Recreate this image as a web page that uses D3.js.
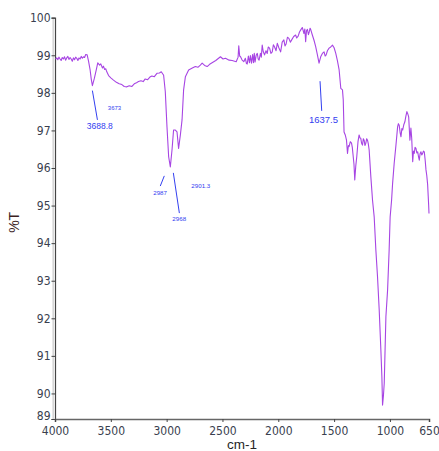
<!DOCTYPE html>
<html>
<head>
<meta charset="utf-8">
<script src="https://cdn.jsdelivr.net/npm/d3@7"></script>
<style>
  html, body { margin: 0; padding: 0; background: #fff; }
  svg { display: block; }
</style>
</head>
<body>
<svg id="chart" width="439" height="451"></svg>
<script>
// FTIR spectrum: wavenumber (cm-1) vs. transmittance (%T)
const wavenumber = [
  3995, 3985, 3975, 3965, 3955, 3945, 3935, 3925, 3915, 3905, 3895, 3885, 3875, 3865,
  3855, 3845, 3835, 3825, 3815, 3805, 3795, 3785, 3775, 3765, 3755, 3745, 3735, 3725, 3712,
  3700, 3686, 3675, 3665, 3647, 3630, 3617, 3600, 3590, 3575, 3566, 3555, 3545, 3536,
  3520, 3500, 3476, 3450, 3425, 3401, 3380, 3356, 3335, 3311, 3290, 3270, 3252, 3230,
  3210, 3192, 3170, 3150, 3132, 3110, 3087, 3065, 3048, 3027, 3012, 2997, 2982, 2967,
  2952, 2938, 2922, 2907, 2893, 2877, 2862, 2848, 2832, 2803, 2770, 2743, 2720, 2698,
  2682, 2660, 2637, 2615, 2593, 2560, 2518, 2495, 2473, 2440, 2413, 2377, 2360, 2354,
  2346, 2338, 2325, 2309, 2295, 2285, 2278, 2268, 2258, 2250, 2240, 2230, 2222, 2215,
  2208, 2198, 2188, 2180, 2172, 2160, 2152, 2144, 2135, 2123, 2110, 2099, 2090, 2078,
  2066, 2054, 2044, 2033, 2020, 2009, 1995, 1979, 1965, 1950, 1940, 1930, 1918, 1905,
  1892, 1880, 1862, 1845, 1835, 1822, 1810, 1800, 1785, 1770, 1762, 1755, 1747, 1739,
  1730, 1723, 1715, 1710, 1695, 1680, 1665, 1650, 1635, 1620, 1605, 1590, 1580, 1571,
  1560, 1545, 1530, 1515, 1500, 1485, 1470, 1455, 1440, 1425, 1418, 1411,
  1400, 1389, 1380, 1372, 1366, 1355, 1344, 1337, 1330, 1322, 1315, 1306, 1297, 1286, 1276,
  1268, 1261, 1254, 1246, 1238, 1231, 1224, 1216, 1208, 1201, 1194, 1186,
  1171, 1156, 1141, 1126, 1111, 1096, 1081, 1072, 1066, 1058, 1051, 1036, 1021, 1007, 998,
  985, 976, 962, 946, 931, 924, 917, 909, 901, 893, 886, 876, 866, 857, 848, 840, 832, 821,
  812, 805, 796, 789, 782, 775, 767, 759, 751, 744, 737, 730, 722, 715, 707, 700, 692, 684,
  677, 670, 662, 657, 653, 650
];
const transmittance = [
  98.90, 98.93, 98.88, 98.95, 98.90, 98.86, 98.94, 98.90, 98.96, 98.87, 98.93, 98.97, 98.89, 98.94,
  98.90, 98.84, 98.93, 98.88, 98.95, 98.92, 98.86, 98.93, 98.90, 98.97, 98.92, 98.96, 98.94, 99.02, 99.01,
  98.85, 98.62, 98.36, 98.19, 98.39, 98.62, 98.80, 98.74, 98.77, 98.66, 98.71, 98.62, 98.64, 98.56,
  98.46, 98.40, 98.34, 98.28, 98.24, 98.22, 98.17, 98.16, 98.19, 98.17, 98.24, 98.27, 98.30, 98.32,
  98.30, 98.37, 98.35, 98.42, 98.45, 98.43, 98.52, 98.53, 98.56, 98.47, 98.03, 97.10, 96.30, 96.03,
  96.48, 97.01, 97.01, 96.96, 96.52, 96.88, 97.28, 98.08, 98.43, 98.61, 98.66, 98.70, 98.68, 98.74,
  98.79, 98.73, 98.70, 98.76, 98.80, 98.86, 98.96, 98.90, 98.92, 98.87, 98.86, 98.83, 98.95, 99.25,
  98.98, 98.96, 98.88, 98.83, 98.92, 98.78, 98.77, 98.98, 98.80, 98.99, 98.79, 99.02, 98.80, 99.05,
  98.82, 99.00, 99.05, 98.90, 98.87, 99.05, 98.95, 99.27, 99.10, 99.01, 99.12, 99.05, 99.22, 99.19,
  99.05, 99.09, 99.28, 99.22, 99.12, 99.32, 99.20, 99.09, 99.35, 99.41, 99.25, 99.30, 99.48, 99.45,
  99.35, 99.41, 99.50, 99.54, 99.46, 99.51, 99.62, 99.67, 99.74, 99.58, 99.70, 99.36, 99.66, 99.69,
  99.55, 99.62, 99.72, 99.69, 99.54, 99.40, 99.23, 99.02, 98.79, 98.96, 99.05, 99.09, 98.98, 99.01,
  99.12, 99.19, 99.22, 99.27, 99.20, 99.05, 98.85, 98.61, 98.12, 98.08, 97.81, 96.96,
  96.88, 96.74, 96.39, 96.60, 96.57, 96.70, 96.66, 96.55, 96.34, 96.10, 95.68, 96.05, 96.30, 96.70, 96.88,
  96.80, 96.79, 96.66, 96.61, 96.78, 96.74, 96.60, 96.66, 96.78, 96.74, 96.65, 96.48,
  95.77, 95.15, 94.70, 93.82, 93.10, 92.22, 91.15, 90.44, 89.69, 89.95, 90.27, 92.04, 92.75, 93.82, 94.70,
  95.15, 95.59, 96.12, 96.61, 97.10, 97.18, 97.14, 96.95, 96.83, 97.05, 97.01, 97.15, 97.23, 97.38, 97.50, 97.44, 97.36, 96.74,
  97.06, 96.80, 96.17, 96.45, 96.39, 96.55, 96.52, 96.40, 96.43, 96.30, 96.21, 96.38, 96.43, 96.35, 96.39, 96.45, 96.43, 96.20,
  95.95, 95.80, 95.55, 95.25, 95.01, 94.79
];

// axis ticks
const xTicks = [4000, 3500, 3000, 2500, 2000, 1500, 1000, 650];
const yTicks = [100, 99, 98, 97, 96, 95, 94, 93, 92, 91, 90];
const yBottom = 89.32;     // lower end of the %T axis, labelled "89"
const yBottomLabel = "89";

// peak annotations
const annLabels = ["3688.8", "3673", "2987", "2968", "2901.3", "1637.5"];
const annTextAt = [[3715, 97.04], [3527, 97.54], [3120, 95.29], [2949, 94.60], [2779, 95.48], [1725, 97.21]];
const annFontSize = [8.5, 6, 6.2, 6.2, 6.2, 9.5];
const annLeaders = [
  [[3665, 98.06], [3620, 97.28]],
  null,
  [[3021, 95.79], [3057, 95.52]],
  [[2940, 95.87], [2886, 94.80]],
  null,
  [[1626, 98.31], [1611, 97.52]]
];

const svg = d3.select("#chart");
const plotLeft = 55, plotRight = 429, plotTop = 17.7, plotBottom = 419;

const x = d3.scaleLinear().domain([4000, 650]).range([plotLeft, plotRight]);
const y = d3.scaleLinear().domain([yBottom, 100]).range([plotBottom, plotTop]);

const tickFont = "'Liberation Sans Narrow', 'Arial Narrow', 'DejaVu Sans Condensed', sans-serif";
const tickColor = "#3a3f4f";

// soft grey edge along the %T axis
svg.append("line")
  .attr("x1", plotLeft - 1.8).attr("x2", plotLeft - 1.8)
  .attr("y1", plotTop).attr("y2", plotBottom)
  .attr("stroke", "#d6d6d6").attr("stroke-width", 1.6);

// y axis
const yAxis = svg.append("g")
  .attr("transform", `translate(${plotLeft},0)`)
  .call(d3.axisLeft(y)
    .tickValues([yBottom, ...yTicks])
    .tickSize(3.5)
    .tickPadding(1)
    .tickFormat(d => d === yBottom ? yBottomLabel : d3.format("d")(d)));

// x axis
const xAxis = svg.append("g")
  .attr("transform", `translate(0,${plotBottom})`)
  .call(d3.axisBottom(x)
    .tickValues(xTicks)
    .tickSize(3)
    .tickPadding(4)
    .tickFormat(d3.format("d")));

[yAxis, xAxis].forEach(g => {
  g.select(".domain").attr("stroke", "#444").attr("stroke-width", 1.2);
  g.selectAll(".tick line").attr("stroke", "#444");
  g.selectAll(".tick text")
    .attr("fill", tickColor)
    .style("font-family", tickFont)
    .style("font-size", "12px");
});
xAxis.select(".domain").attr("stroke", "#666").attr("stroke-width", 1.6);
// lift the bottom "89" label clear of the wavenumber labels
yAxis.selectAll(".tick text").filter(d => d === yBottom).attr("dy", "0.05em");

// axis titles
svg.append("text")
  .attr("transform", `translate(19,${(plotTop + plotBottom) / 2 + 4}) rotate(-90)`)
  .attr("text-anchor", "middle")
  .attr("fill", "#3d1f1f")
  .style("font-family", "'Liberation Sans', Arial, sans-serif")
  .style("font-size", "14px")
  .text("%T");

svg.append("text")
  .attr("x", (plotLeft + plotRight) / 2).attr("y", 449)
  .attr("text-anchor", "middle")
  .attr("fill", "#262626")
  .style("font-family", "'Liberation Sans', Arial, sans-serif")
  .style("font-size", "13.5px")
  .text("cm-1");

// spectrum trace
const points = wavenumber.map((w, i) => [w, transmittance[i]]);
const line = d3.line().x(d => x(d[0])).y(d => y(d[1]));

svg.append("path")
  .datum(points)
  .attr("fill", "none")
  .attr("stroke", "#a745e3")
  .attr("stroke-width", 1.1)
  .attr("stroke-linejoin", "round")
  .attr("d", line);

// peak labels and leader lines
const annColor = "#3340f0";
annLabels.forEach((label, i) => {
  const lead = annLeaders[i];
  if (lead) {
    svg.append("line")
      .attr("x1", x(lead[0][0])).attr("y1", y(lead[0][1]))
      .attr("x2", x(lead[1][0])).attr("y2", y(lead[1][1]))
      .attr("stroke", annColor).attr("stroke-width", 1);
  }
  svg.append("text")
    .attr("x", x(annTextAt[i][0])).attr("y", y(annTextAt[i][1]))
    .attr("fill", annColor)
    .style("font-family", "'Liberation Sans', Arial, sans-serif")
    .style("font-size", annFontSize[i] + "px")
    .text(label);
});
</script>
</body>
</html>
